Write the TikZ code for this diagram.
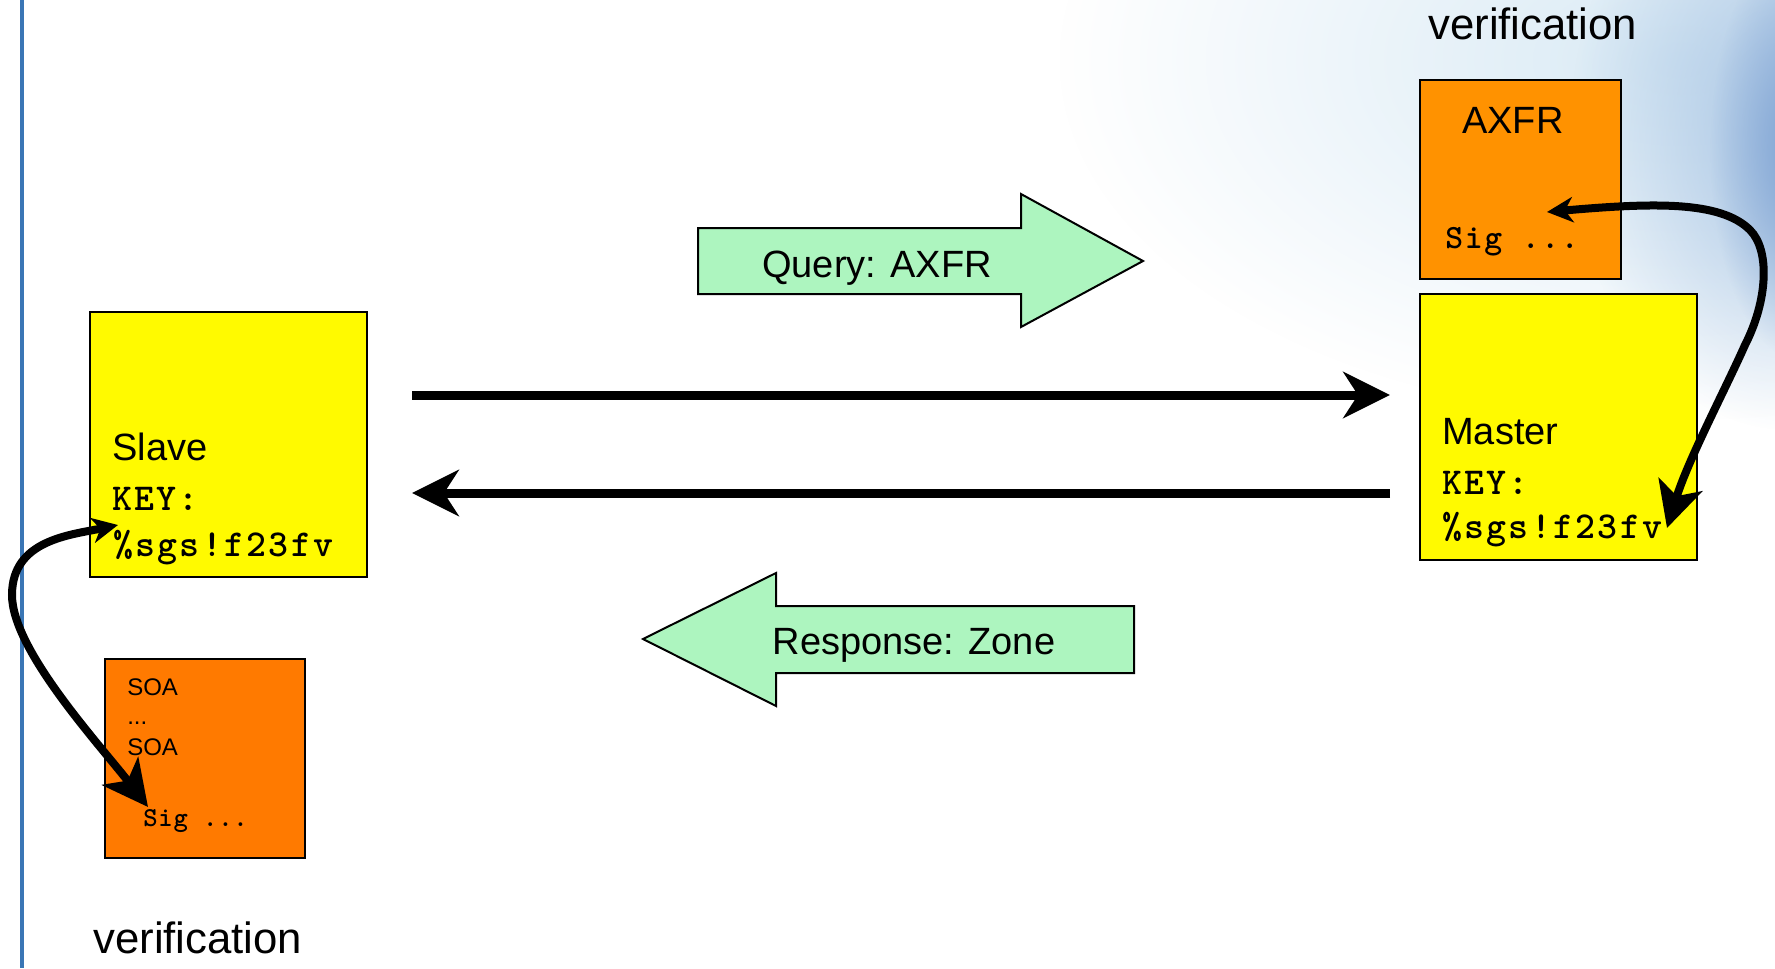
\documentclass[tikz,border=0pt]{standalone}
\usepackage{fontspec}
\setmainfont{Liberation Sans}
\newfontfamily\keyfont{lmmonolt10-bold.otf}[LetterSpace=6]
\newfontfamily\sigfont{lmmonolt10-bold.otf}[LetterSpace=5]
\newfontfamily\smsigfont{lmmonolt10-bold.otf}[LetterSpace=3]
\usetikzlibrary{arrows.meta,fit,fadings}
\definecolor{boxyellow}{HTML}{FFFA00}
\definecolor{axfrorange}{HTML}{FF9200}
\definecolor{soaorange}{HTML}{FF7A00}
\definecolor{arrowgreen}{HTML}{ADF5BF}
\definecolor{sideline}{HTML}{3A76B5}
\definecolor{bgA}{HTML}{D9EAF5}
\definecolor{bgB}{HTML}{A9C5E4}
\definecolor{bgC}{HTML}{7FA3D3}
\tikzfading[name=softc, inner color=transparent!0, outer color=transparent!100]
\tikzset{
  box/.style={draw=black, line width=1.6pt, inner sep=0pt, outer sep=0pt},
  sanslbl/.style={anchor=base west, inner sep=0pt, font=\fontsize{28.5}{34}\selectfont},
  bigsans/.style={anchor=base west, inner sep=0pt, font=\fontsize{32.8}{38}\selectfont},
  smallsans/.style={anchor=base west, inner sep=0pt, font=\fontsize{18}{22}\selectfont},
  keylbl/.style={anchor=base west, inner sep=0pt, font=\keyfont\fontsize{28.5}{34}\selectfont},
  siglbl/.style={anchor=base west, inner sep=0pt, font=\sigfont\fontsize{25.5}{30}\selectfont},
  smsiglbl/.style={anchor=base west, inner sep=0pt, font=\smsigfont\fontsize{20.5}{24}\selectfont},
  blockarrow/.style={draw=black, line width=1.5pt, fill=arrowgreen, line join=miter},
  flowarrow/.style={line width=6.75pt, -{Stealth[length=35pt,width=34.5pt,inset=11pt]}},
  verifarrow/.style={line width=6pt, line cap=round,
     {Stealth[length=19.5pt,width=19pt,inset=6pt]}-{Stealth[length=34pt,width=34pt,inset=9pt]}}
}
\begin{document}
\begin{tikzpicture}[x=0.75pt,y=-0.75pt]
\useasboundingbox (0,0) rectangle (1775,968);
% background glow
\begin{scope}
\clip (0,0) rectangle (1775,968);
\fill[white] (0,0) rectangle (1775,968);
\fill[bgA, path fading=softc] (1680,60) ellipse [x radius=620, y radius=360];
\fill[bgB, path fading=softc] (1790,130) ellipse [x radius=220, y radius=300];
\fill[bgC, path fading=softc] (1800,150) ellipse [x radius=90, y radius=210];
\end{scope}
% left side line
\draw[sideline, line width=2.4pt] (22,0) -- (22,968);

% boxes
\node[box, fill=boxyellow, fit={(90,312)(367,577)}] (slave) {};
\node[box, fill=boxyellow, fit={(1420,294)(1697,560)}] (master) {};
\node[box, fill=axfrorange, fit={(1420,80)(1621,279)}] (axfr) {};
\node[box, fill=soaorange, fit={(105,659)(305,858)}] (soa) {};

% box texts
\node[sanslbl] (slaveT) at (112,460) {Slave};
\node[keylbl] (slaveK) at (112,510) {KEY:};
\node[keylbl] (slaveV) at (113,556) {\%sgs!f23fv};

\node[sanslbl] (masterT) at (1442,444) {Master};
\node[keylbl] (masterK) at (1442,494) {KEY:};
\node[keylbl] (masterV) at (1442,538) {\%sgs!f23fv};

\node[sanslbl] (axfrT) at (1462,133) {AXFR};
\node[siglbl] (axfrS) at (1445,248) {Sig ...};

\node[smallsans] (soa1) at (127,695.5) {SOA};
\node[smallsans] (soadots) at (127,724) {...};
\node[smallsans] (soa2) at (127,755) {SOA};
\node[smsiglbl] (soaS) at (143,826) {Sig ...};

\node[bigsans] (verTop) at (1428,39) {verification};
\node[bigsans] (verBot) at (93,953) {verification};

% block arrows
\draw[blockarrow] (698,228) -- (1021,228) -- (1021,194) -- (1143,261) -- (1021,327) -- (1021,294) -- (698,294) -- cycle;
\node[anchor=base, inner sep=0pt, font=\fontsize{28.5}{34}\selectfont] (query) at (877,277) {Query: AXFR};
\draw[blockarrow] (643,639) -- (776,573) -- (776,606) -- (1134,606) -- (1134,673) -- (776,673) -- (776,706) -- cycle;
\node[anchor=base, inner sep=0pt, font=\fontsize{28.5}{34}\selectfont] (response) at (914,654) {Response: Zone};

% straight flow arrows
\coordinate (qStart) at (412,395);
\coordinate (qEnd) at (1390,395);
\coordinate (rStart) at (1390,493);
\coordinate (rEnd) at (412,493);
\draw[flowarrow] (qStart) -- (qEnd);
\draw[flowarrow] (rStart) -- (rEnd);

% verification curves
\coordinate (rvA) at (1547,212);
\coordinate (rvB) at (1667,528);
\draw[verifarrow] (rvA) .. controls (1650,203) and (1720,200) .. (1750,230)
   .. controls (1770,250) and (1768,300) .. (1745,345)
   .. controls (1725,390) and (1688,460) .. (rvB);
\coordinate (lvA) at (118,525);
\coordinate (lvB) at (148,807);
\draw[verifarrow] (lvA) .. controls (70,535) and (12,540) .. (12,595)
   .. controls (12,650) and (100,745) .. (lvB);
\end{tikzpicture}
\end{document}
